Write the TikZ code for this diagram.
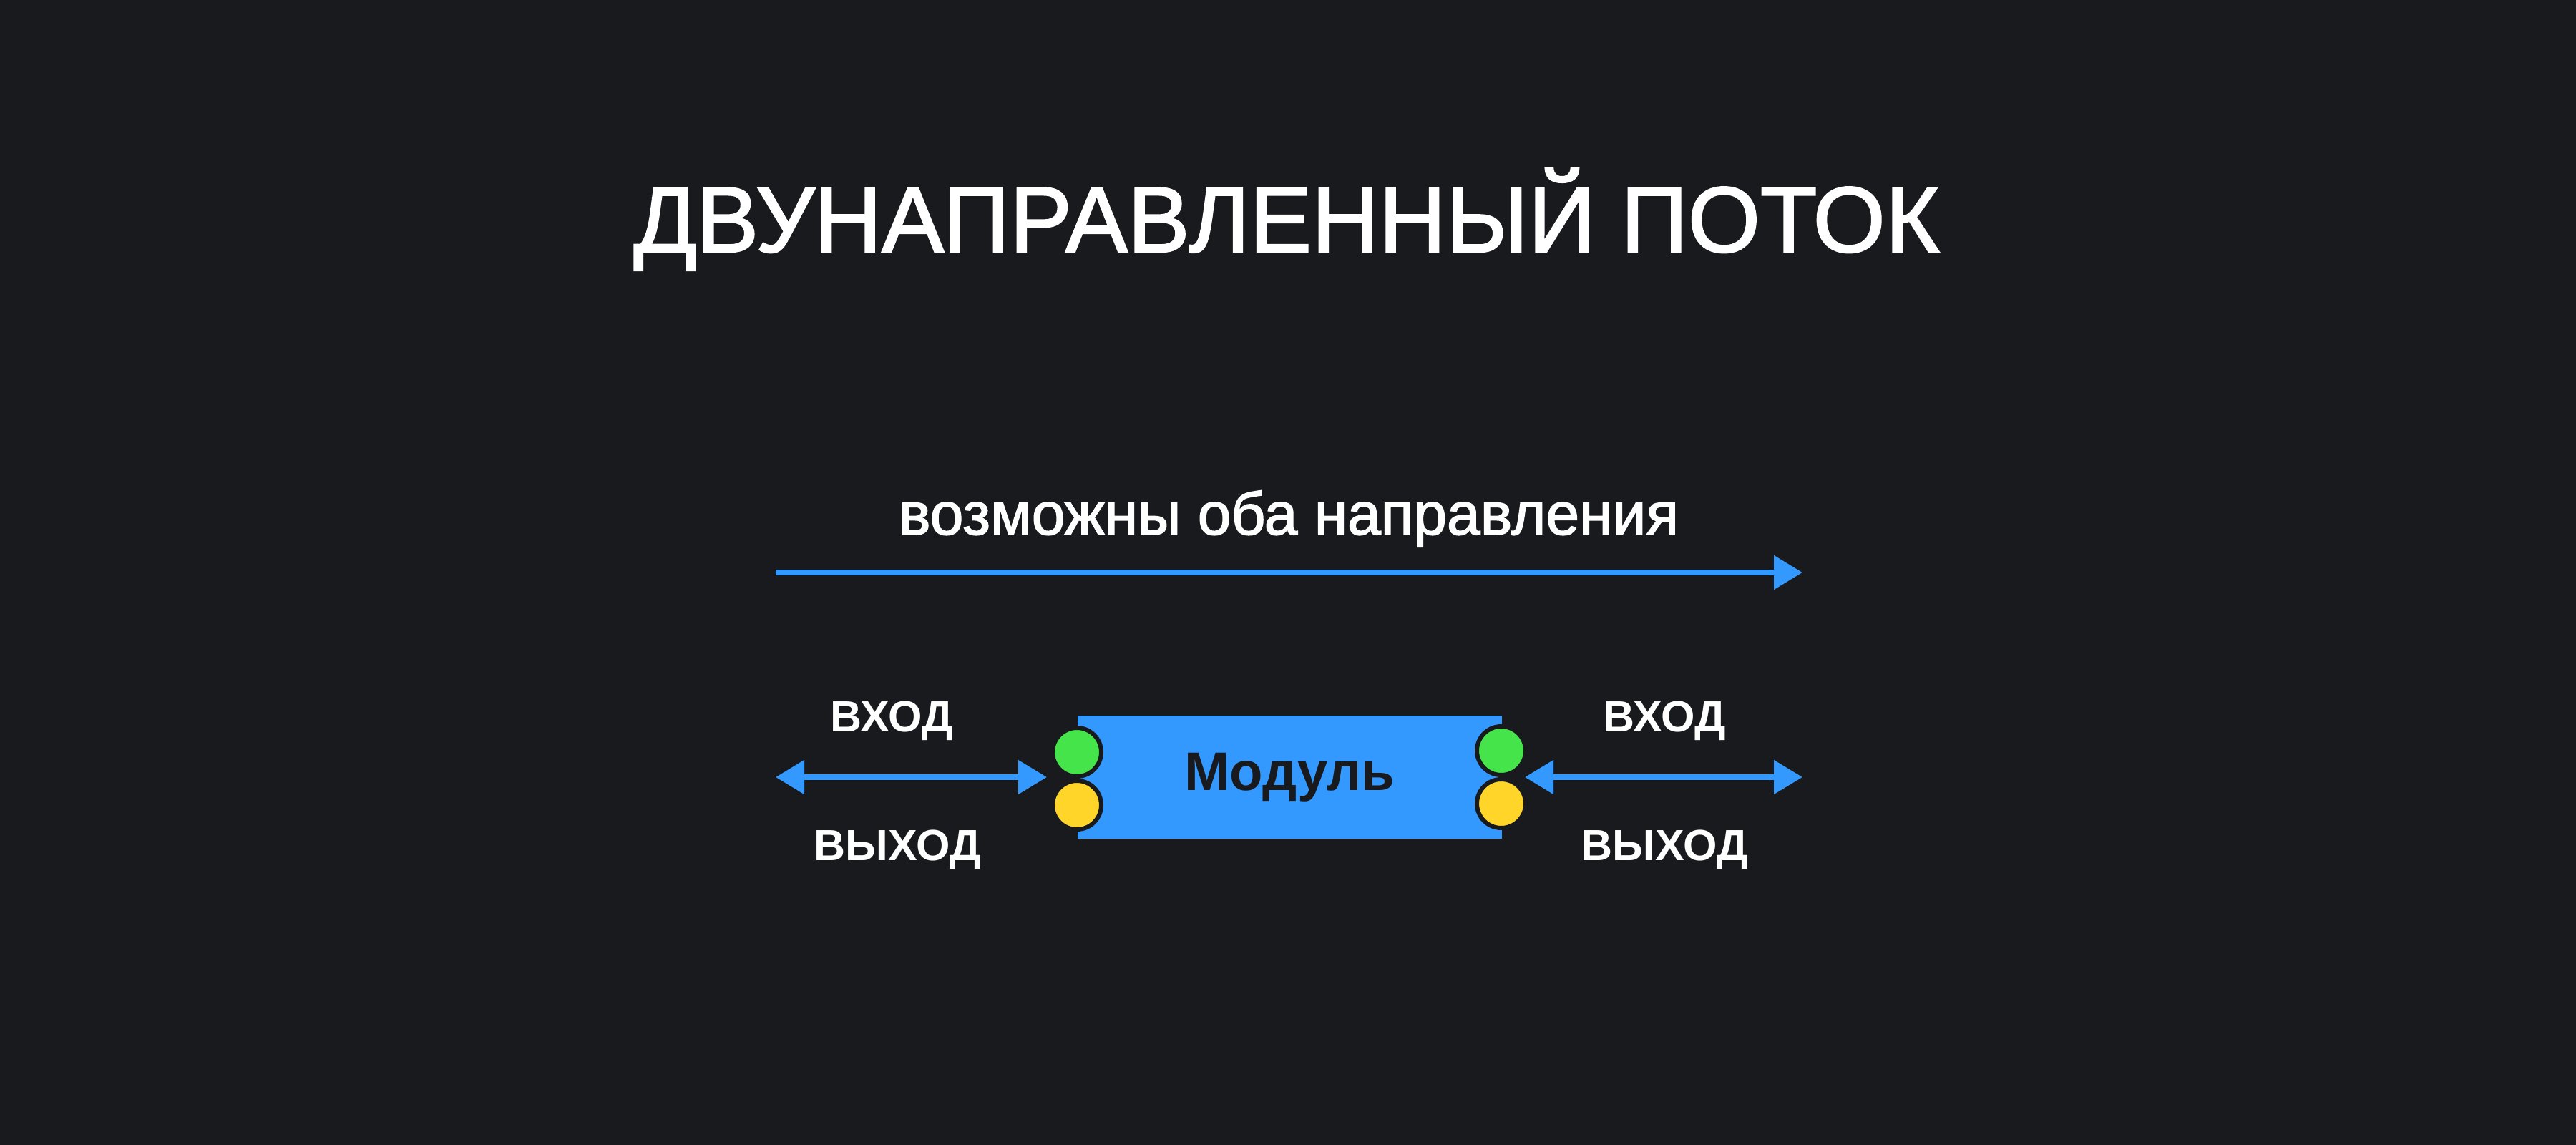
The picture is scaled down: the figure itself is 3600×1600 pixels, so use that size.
\documentclass[tikz,border=0pt]{standalone}
\usepackage{fontspec}
\setmainfont{Liberation Sans}
\newfontface\mediumface[FakeBold=1.8]{Liberation Sans}
\usetikzlibrary{arrows.meta}
\definecolor{bg}{HTML}{191A1E}
\definecolor{flowblue}{HTML}{3399FF}
\definecolor{portgreen}{HTML}{44E44A}
\definecolor{portyellow}{HTML}{FFD52A}
\definecolor{ink}{HTML}{191A1E}
\tikzset{
  flow/.style={draw=flowblue, line width=8pt},
  tipR/.style={-{Triangle[length=40pt,width=46pt]}},
  tipLR/.style={{Triangle[length=40pt,width=46pt]}-{Triangle[length=40pt,width=46pt]}},
  port/.style={circle, draw=ink, line width=6pt, minimum size=68pt, inner sep=0pt},
  lbl/.style={text=white, font=\fontsize{61}{66}\selectfont\bfseries, anchor=base},
}
\begin{document}
\begin{tikzpicture}[x=1pt,y=-1pt]
\fill[bg] (0,0) rectangle (3600,1600);
\useasboundingbox (0,0) rectangle (3600,1600);
\node[text=white, anchor=base, font=\fontsize{130}{140}\selectfont\mediumface] (title) at (1798,352) {ДВУНАПРАВЛЕННЫЙ ПОТОК};
\node[text=white, anchor=base, font=\fontsize{84}{95}\selectfont\mediumface] (sub) at (1801,747) {возможны оба направления};
\coordinate (a1) at (1084,800);
\coordinate (a2) at (2519,800);
\draw[flow, tipR] (a1) -- (a2);
\node[fill=flowblue, minimum width=593pt, minimum height=172pt, inner sep=0pt, text=ink, font=\fontsize{76}{86}\selectfont\bfseries] (mod) at (1802.5,1086) {Модуль};
\node[port, fill=portgreen] (lg) at (1505,1051) {};
\node[port, fill=portyellow] (ly) at (1505,1125) {};
\node[port, fill=portgreen] (rg) at (2098,1049) {};
\node[port, fill=portyellow] (ry) at (2098,1123) {};
\coordinate (l1) at (1084,1086);
\coordinate (l2) at (1463,1086);
\coordinate (r1) at (2131,1086);
\coordinate (r2) at (2519,1086);
\draw[flow, tipLR] (l1) -- (l2);
\draw[flow, tipLR] (r1) -- (r2);
\node[lbl] (lin) at (1246,1022) {ВХОД};
\node[lbl] (lout) at (1254,1202) {ВЫХОД};
\node[lbl] (rin) at (2326,1022) {ВХОД};
\node[lbl] (rout) at (2326,1202) {ВЫХОД};
\end{tikzpicture}
\end{document}
